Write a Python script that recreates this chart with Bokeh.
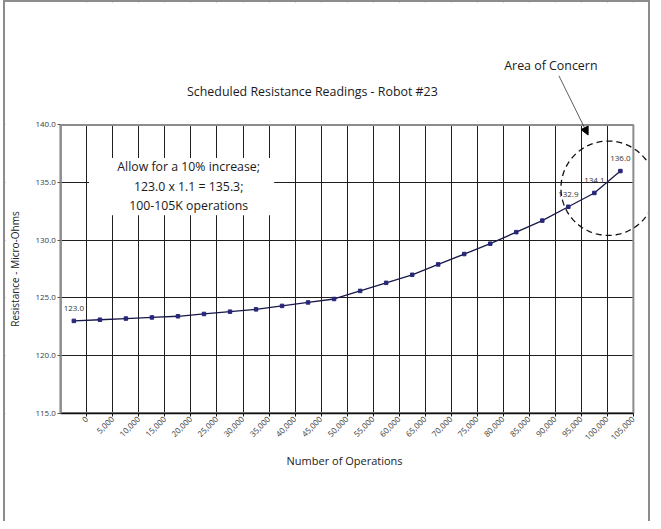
import math
from bokeh.plotting import figure
from bokeh.models import (ColumnDataSource, FixedTicker, NumeralTickFormatter, Label, LabelSet,
                          BoxAnnotation, PolyAnnotation, Arrow, NormalHead, Range1d)
from bokeh.transform import dodge
from bokeh.core.properties import value
from bokeh.embed import file_html
from bokeh.resources import INLINE

# ---------------- data ----------------
title_text = "Scheduled Resistance Readings - Robot #23"
x_title = "Number of Operations"
y_title = "Resistance - Micro-Ohms"
concern_text = "Area of Concern"
note_lines = ["Allow for a 10% increase;", "123.0 x 1.1 = 135.3;", "100-105K operations"]

operations = [0, 5000, 10000, 15000, 20000, 25000, 30000, 35000, 40000, 45000, 50000,
              55000, 60000, 65000, 70000, 75000, 80000, 85000, 90000, 95000, 100000, 105000]
tick_labels = ["0", "5,000", "10,000", "15,000", "20,000", "25,000", "30,000", "35,000",
               "40,000", "45,000", "50,000", "55,000", "60,000", "65,000", "70,000", "75,000",
               "80,000", "85,000", "90,000", "95,000", "100,000", "105,000"]
resistance = [123.0, 123.1, 123.2, 123.3, 123.4, 123.6, 123.8, 124.0, 124.3, 124.6, 124.9,
              125.6, 126.3, 127.0, 127.9, 128.8, 129.7, 130.7, 131.7, 132.9, 134.1, 136.0]
labeled_points = [0, 19, 20, 21]
y_ticks = [115, 120, 125, 130, 135, 140]

# ---------------- layout (page pixels) ----------------
FONT = "Open Sans"
GRID = "#1e1e1e"
FRAME = "#8c8c8c"
X0, X1 = -5000, 105000          # value extent of the plot area
Y0, Y1 = 115, 140
CANVAS_L, CANVAS_T, CANVAS_W, CANVAS_H = 13, 10, 643, 519
AREA_L, AREA_R, AREA_T, AREA_B = 68, 637, 132, 419
px_x = (X1 - X0) / (AREA_R - AREA_L)
px_y = (Y1 - Y0) / (AREA_B - AREA_T)


def dx(page_x):
    return X0 + (page_x - AREA_L) * px_x


def dy(page_y):
    return Y1 - (page_y - AREA_T) * px_y


x_start, x_end = dx(CANVAS_L), dx(CANVAS_L + CANVAS_W)
y_start, y_end = dy(CANVAS_T + CANVAS_H), dy(CANVAS_T)

src = ColumnDataSource(dict(ops=operations, res=resistance))
lab_src = ColumnDataSource(dict(
    ops=[operations[i] for i in labeled_points],
    res=[resistance[i] for i in labeled_points],
    txt=["%.1f" % resistance[i] for i in labeled_points]))

p = figure(width=CANVAS_W, height=CANVAS_H, output_backend="svg", toolbar_location=None,
           x_range=Range1d(x_start, x_end), y_range=Range1d(y_start, y_end),
           min_border_left=0, min_border_right=0, min_border_top=0, min_border_bottom=0)
p.background_fill_color = "white"
p.border_fill_color = "white"
p.outline_line_color = None
p.styles = {"box-sizing": "content-box", "margin-left": "3px",
            "border-top": "2px solid #8c8c8c", "border-left": "2px solid #8c8c8c",
            "border-right": "2px solid #8c8c8c"}

# axes, pinned to the plot-area edges
p.xaxis.fixed_location = Y0
p.yaxis.fixed_location = X0
p.xaxis.ticker = FixedTicker(ticks=operations)
p.xaxis.major_label_overrides = {o: t for o, t in zip(operations, tick_labels)}
p.xaxis.major_label_orientation = math.pi / 4
p.xaxis.bounds = (X0, X1)
p.yaxis.ticker = FixedTicker(ticks=y_ticks)
p.yaxis.formatter = NumeralTickFormatter(format="0.0")
p.yaxis.bounds = (Y0, Y1)
for ax in (p.xaxis[0], p.yaxis[0]):
    ax.major_label_text_font = FONT
    ax.major_label_text_font_size = "8px"
    ax.major_label_text_color = "#3a3a3a"
    ax.major_tick_out = 3
    ax.major_tick_in = 0
    ax.minor_tick_out = 0
    ax.minor_tick_in = 0
    ax.major_label_standoff = 2
p.xaxis.axis_line_color = "#111111"
p.xaxis.axis_line_width = 1.5
p.xaxis.major_tick_line_color = "#111111"
p.yaxis.axis_line_color = FRAME
p.yaxis.axis_line_width = 2
p.yaxis.major_tick_line_color = "#555555"

p.xgrid.ticker = FixedTicker(ticks=operations)
p.ygrid.ticker = FixedTicker(ticks=y_ticks)
p.grid.grid_line_color = GRID
p.grid.grid_line_width = 1
p.grid.level = "image"

# mask grid lines outside the plot area
for kw in (dict(bottom=Y1), dict(top=Y0), dict(right=X0), dict(left=X1)):
    p.add_layout(BoxAnnotation(fill_color="white", fill_alpha=1.0, line_alpha=0,
                               level="underlay", **kw))
# plot-area border
p.add_layout(BoxAnnotation(left=X0, right=X1, bottom=Y0, top=Y1, fill_alpha=0,
                           line_color=FRAME, line_alpha=1.0, line_width=2, level="underlay"))

# axis titles
p.add_layout(Label(x=dx(350), y=dy(466), text=x_title, text_align="center",
                   text_baseline="middle", text_font=FONT, text_font_size="11px",
                   text_color="#222222"))
p.add_layout(Label(x=dx(22), y=(Y0 + Y1) / 2, text=y_title, angle=math.pi / 2,
                   text_align="center", text_baseline="middle", text_font=FONT,
                   text_font_size="10px", text_color="#222222"))

# series
xs = dodge("ops", -2500)
p.line(x=xs, y="res", source=src, line_color="#18184a", line_width=1.3)
p.scatter(x=xs, y="res", source=src, marker="square", size=3.5,
          fill_color="#27277a", line_color="#27277a")
p.add_layout(LabelSet(x=xs, y="res", text="txt", source=lab_src, y_offset=10,
                      text_align="center", text_baseline="bottom",
                      text_font=value(FONT), text_font_size="8px", text_color="#333333"))

# note box
p.add_layout(BoxAnnotation(left=dx(96), right=dx(280), bottom=dy(222), top=dy(165),
                           fill_color="white", fill_alpha=1.0, line_alpha=0))
for py, t in zip([173, 193, 212], note_lines):
    p.add_layout(Label(x=dx(195), y=dy(py), text=t, text_align="center", text_baseline="middle",
                       text_font=FONT, text_font_size="12.3px", text_color="#1a1a1a"))

# title and callout
p.add_layout(Label(x=dx(318), y=dy(99), text=title_text, text_align="center",
                   text_baseline="middle", text_font=FONT, text_font_size="12.4px",
                   text_color="#1a1a1a"))
p.add_layout(Label(x=dx(555), y=dy(73), text=concern_text, text_align="center",
                   text_baseline="middle", text_font=FONT, text_font_size="12.4px",
                   text_color="#1a1a1a"))
p.add_layout(Arrow(end=NormalHead(size=8, fill_color="black", line_color="black"),
                   x_start=dx(563), y_start=dy(83), x_end=dx(592), y_end=dy(142),
                   line_color="#333333", line_width=0.8))

# dashed circle of concern
cx, cy = dx(612), dy(195)
rx, ry = 47 * px_x, 47 * px_y
n = 96
p.add_layout(PolyAnnotation(
    xs=[cx + rx * math.cos(2 * math.pi * k / n) for k in range(n)],
    ys=[cy + ry * math.sin(2 * math.pi * k / n) for k in range(n)],
    line_color="#111111", line_alpha=1.0, line_width=1.3, line_dash="6 4", fill_alpha=0))

open("out.html", "w").write(file_html(p, INLINE))
